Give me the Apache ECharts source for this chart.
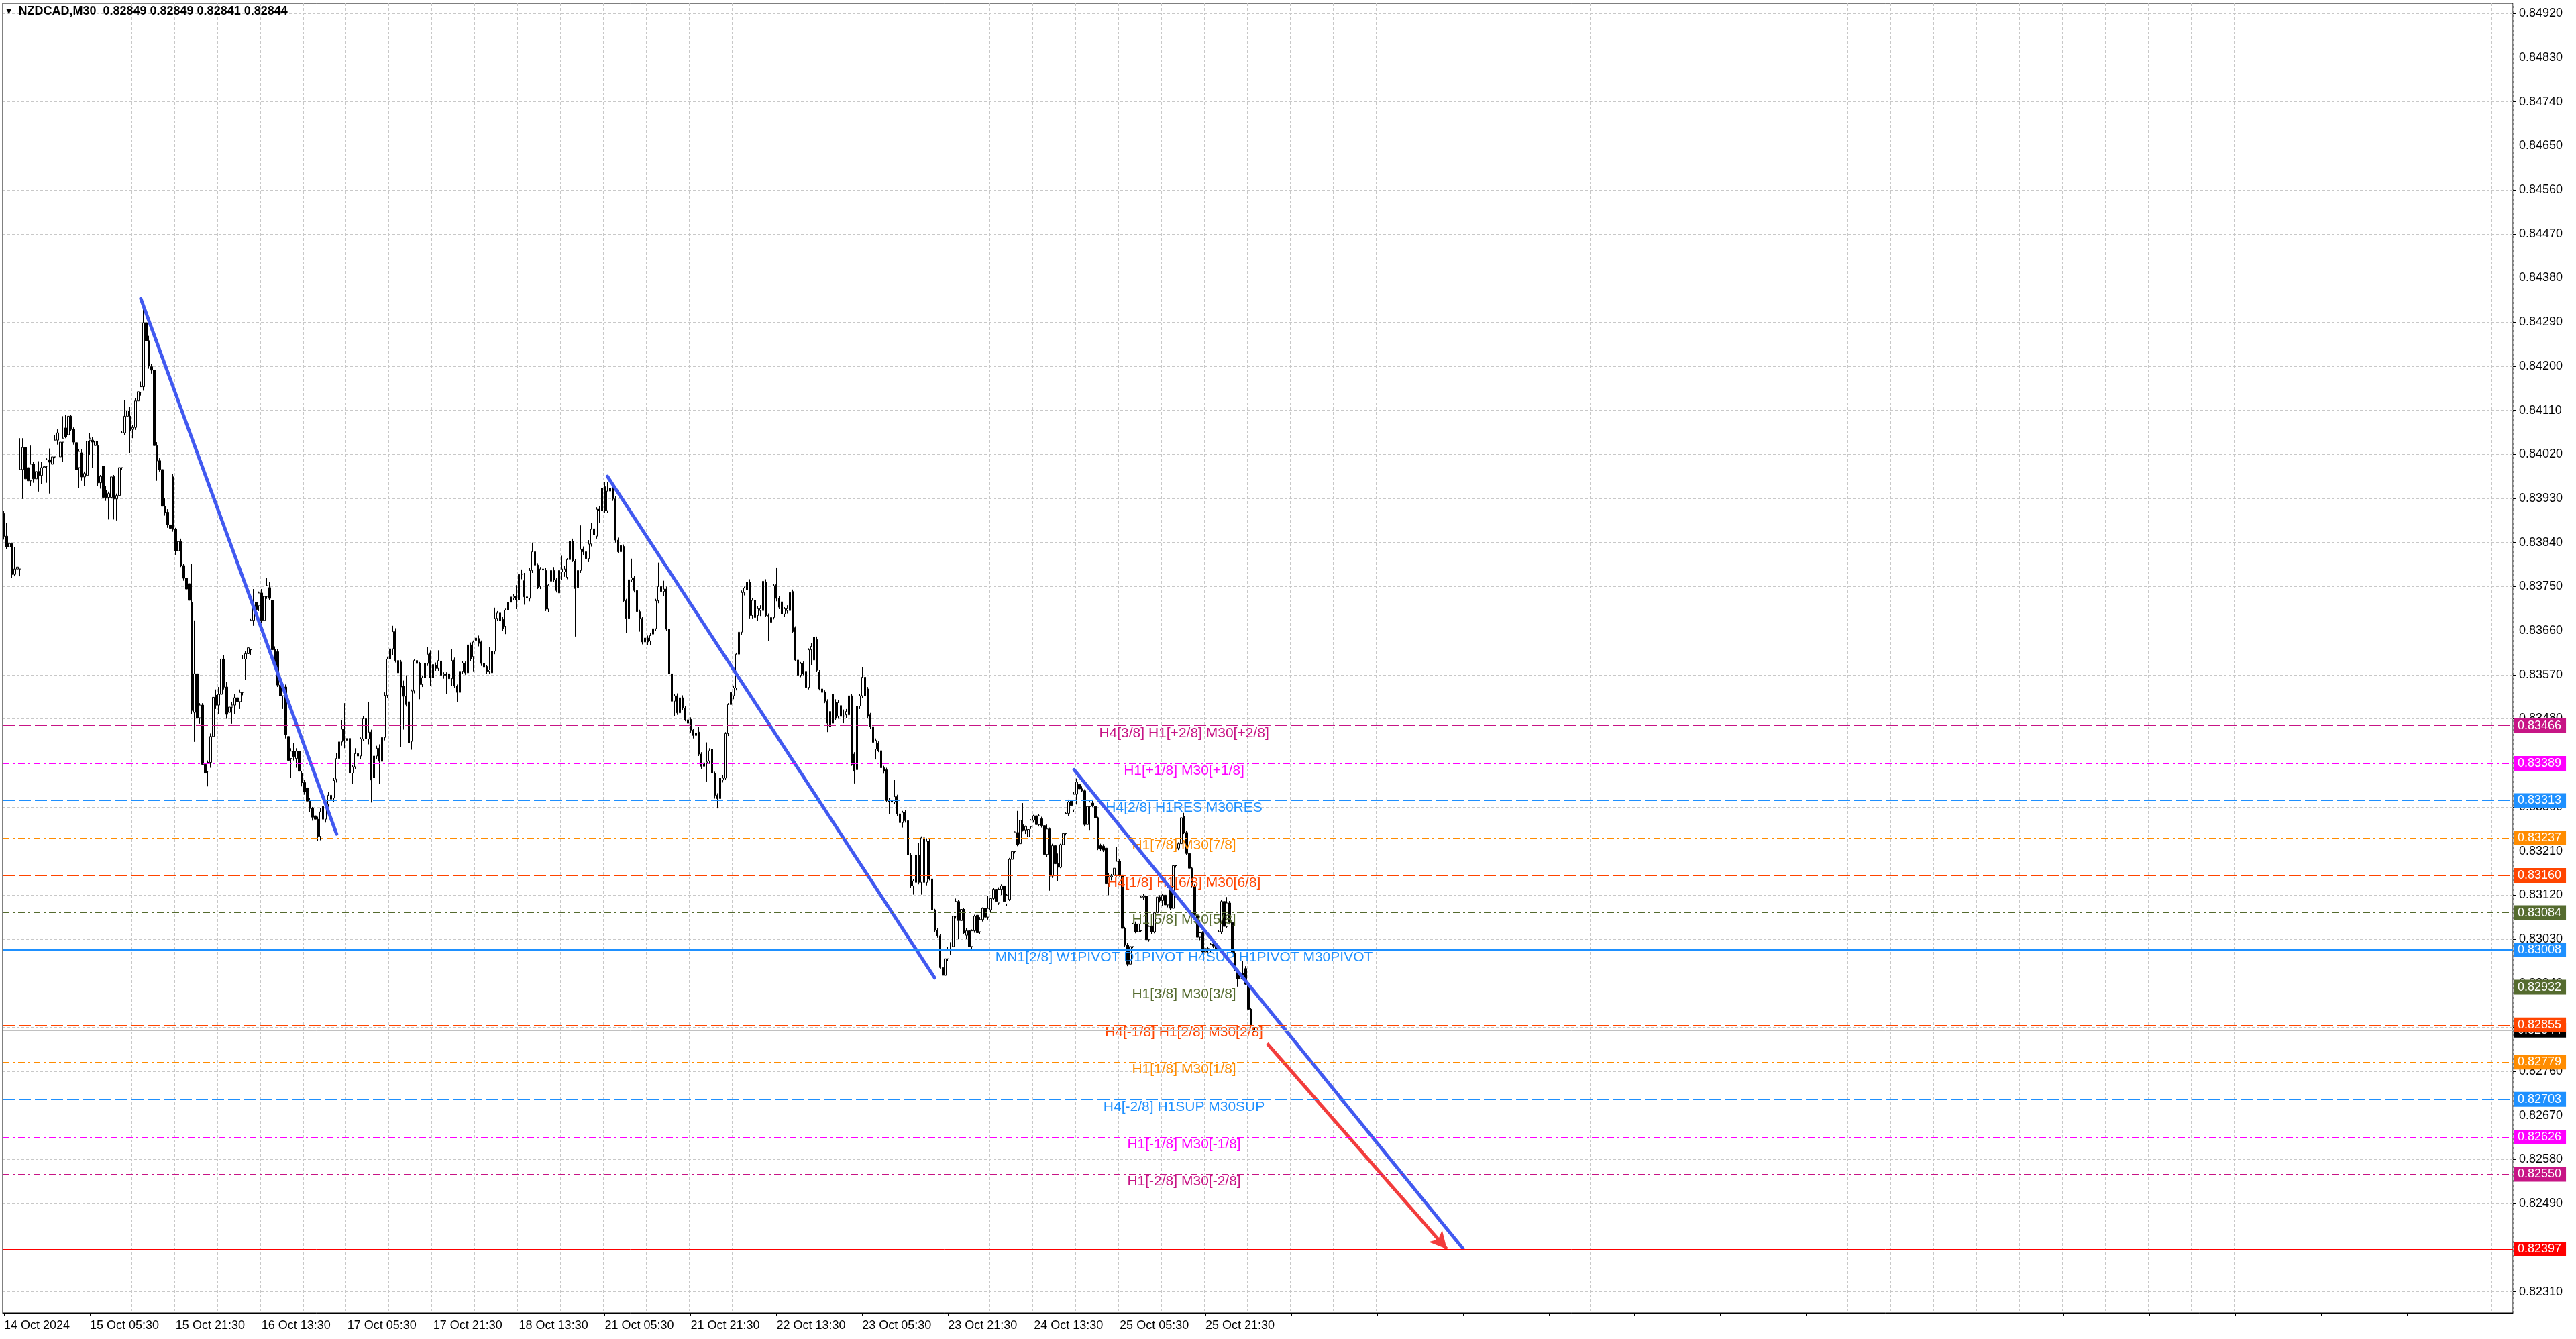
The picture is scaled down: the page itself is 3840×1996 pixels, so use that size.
<!DOCTYPE html>
<html><head><meta charset="utf-8">
<script src="https://cdn.jsdelivr.net/npm/echarts@6/dist/echarts.min.js"></script>
<style>html,body{margin:0;padding:0;background:#fff;}#chart{width:3840px;height:1996px;}</style>
</head><body><div id="chart"></div>
<script>
// ---------- DATA (prices in points, 1 point = 0.00001) ----------
const symbolTitle = 'NZDCAD,M30';
const headerQuote = [0.82849, 0.82849, 0.82841, 0.82844];
const xTickLabels = ['14 Oct 2024','15 Oct 05:30','15 Oct 21:30','16 Oct 13:30','17 Oct 05:30','17 Oct 21:30','18 Oct 13:30','21 Oct 05:30','21 Oct 21:30','22 Oct 13:30','23 Oct 05:30','23 Oct 21:30','24 Oct 13:30','25 Oct 05:30','25 Oct 21:30'];
const yTickValues = [82310,82400,82490,82580,82670,82760,82850,82940,83030,83120,83210,83300,83390,83480,83570,83660,83750,83840,83930,84020,84110,84200,84290,84380,84470,84560,84650,84740,84830,84920];
// [open, high, low, close] per M30 bar
const ohlc = [
[83899,83905,83846,83853],[83853,83880,83827,83831],[83831,83846,83825,83838],[83838,83840,83767,83775],[83775,83831,83771,83786],
[83786,83797,83738,83790],[83786,84053,83771,83989],[83989,84053,83929,84034],[84034,84056,83951,83970],[83993,84000,83962,83966],
[83966,84038,83955,84000],[84000,84004,83962,83970],[83970,83989,83959,83985],[83985,84006,83944,83977],[83977,84004,83959,83993],
[83993,83998,83985,83995],[83996,84012,83962,84009],[84009,84032,83940,84004],[84000,84019,83985,84015],[84015,84060,84012,84049],
[84049,84071,84040,84064],[84015,84053,83951,84045],[84045,84098,84004,84053],[84074,84101,84053,84056],[84060,84107,84056,84098],
[84098,84101,84068,84071],[84071,84075,84040,84045],[84044,84056,83966,83989],[83993,84030,83951,84026],[84023,84030,83966,83974],
[83974,83985,83955,83981],[83977,84068,83970,84047],[84049,84064,84019,84053],[84049,84056,83993,84045],[84038,84068,84030,84047],
[84038,84047,83955,83962],[83962,83978,83950,83975],[83996,84000,83914,83932],[83947,83955,83925,83932],[83932,83944,83887,83940],
[83932,83996,83910,83974],[83975,83978,83887,83929],[83929,83940,83885,83936],[83936,83996,83914,83993],[83993,84068,83989,84064],
[84064,84131,84060,84098],[84098,84128,84090,84109],[84098,84117,84023,84068],[84071,84080,84053,84075],[84075,84135,84070,84129],
[84129,84158,84125,84148],[84147,84169,84140,84158],[84158,84316,84150,84289],[84289,84316,84240,84252],[84252,84262,84195,84201],
[84199,84205,84185,84192],[84192,84197,84030,84038],[84038,84045,83966,84007],[84007,84012,83985,83989],[83989,83995,83905,83914],
[83914,83930,83895,83902],[83902,83908,83870,83876],[83876,83880,83860,83869],[83974,83980,83862,83867],[83867,83870,83815,83823],
[83823,83850,83815,83842],[83842,83848,83790,83793],[83793,83797,83762,83767],[83767,83772,83735,83745],[83756,83797,83718,83722],
[83718,83797,83490,83497],[83493,83681,83433,83572],[83572,83580,83475,83482],[83482,83512,83470,83508],[83508,83512,83385,83387],
[83387,83390,83275,83369],[83373,83395,83342,83391],[83391,83450,83380,83444],[83444,83530,83385,83524],[83528,83540,83500,83508],
[83508,83545,83490,83530],[83530,83643,83525,83602],[83602,83610,83540,83545],[83545,83555,83480,83489],[83493,83510,83485,83504],
[83504,83515,83470,83508],[83508,83530,83490,83523],[83523,83564,83466,83515],[83515,83540,83500,83534],[83534,83610,83528,83602],
[83602,83618,83560,83613],[83613,83636,83600,83625],[83621,83685,83610,83681],[83681,83745,83670,83711],[83718,83740,83698,83703],
[83711,83740,83700,83737],[83737,83745,83675,83681],[83681,83735,83675,83730],[83730,83767,83725,83752],[83748,83760,83722,83726],
[83722,83730,83615,83621],[83621,83628,83590,83594],[83617,83622,83545,83549],[83549,83555,83480,83527],[83527,83548,83500,83545],
[83545,83550,83440,83448],[83444,83448,83385,83395],[83399,83420,83360,83414],[83414,83430,83395,83403],[83399,83420,83380,83414],
[83414,83420,83360,83373],[83369,83373,83342,83350],[83350,83355,83325,83331],[83339,83345,83305,83312],[83312,83318,83290,83297],
[83297,83300,83272,83279],[83282,83290,83270,83275],[83275,83280,83230,83240],[83240,83298,83232,83290],[83301,83305,83270,83275],
[83275,83310,83268,83305],[83305,83330,83300,83324],[83324,83328,83308,83316],[83318,83360,83310,83354],[83357,83410,83350,83399],
[83399,83440,83385,83433],[83433,83478,83425,83459],[83459,83512,83420,83436],[83436,83445,83420,83440],[83440,83445,83352,83369],
[83369,83385,83347,83382],[83382,83420,83378,83409],[83409,83428,83400,83404],[83404,83442,83398,83439],[83439,83485,83435,83480],
[83480,83485,83436,83439],[83439,83515,83428,83453],[83453,83458,83309,83355],[83360,83408,83350,83404],[83404,83425,83398,83420],
[83420,83428,83347,83393],[83393,83445,83388,83442],[83442,83534,83436,83528],[83528,83607,83523,83602],[83602,83628,83598,83623],
[83623,83670,83610,83658],[83658,83665,83595,83599],[83599,83634,83570,83574],[83596,83600,83423,83545],[83547,83558,83458,83526],
[83526,83569,83505,83509],[83515,83520,83425,83431],[83434,83540,83417,83537],[83537,83602,83532,83599],[83599,83637,83577,83593],
[83593,83596,83520,83550],[83550,83568,83545,83564],[83564,83596,83560,83593],[83593,83626,83588,83612],[83615,83620,83547,83564],
[83564,83595,83558,83591],[83589,83595,83578,83583],[83583,83620,83578,83599],[83598,83603,83565,83569],[83569,83575,83562,83571],
[83571,83575,83531,83569],[83572,83577,83558,83562],[83562,83623,83547,83599],[83600,83605,83543,83547],[83547,83550,83515,83534],
[83534,83580,83528,83577],[83577,83598,83572,83594],[83593,83597,83570,83574],[83574,83658,83570,83631],[83631,83636,83598,83602],
[83607,83640,83577,83637],[83640,83707,83630,83645],[83644,83650,83628,83634],[83637,83640,83588,83593],[83593,83598,83580,83585],
[83587,83590,83572,83577],[83577,83626,83572,83580],[83574,83623,83570,83618],[83618,83707,83612,83685],[83685,83700,83680,83696],
[83696,83723,83675,83680],[83683,83688,83660,83664],[83669,83705,83653,83702],[83702,83734,83698,83718],[83718,83748,83696,83729],
[83727,83735,83722,83730],[83730,83753,83704,83723],[83723,83799,83718,83775],[83775,83785,83765,83776],[83762,83778,83713,83729],
[83729,83735,83702,83727],[83726,83788,83720,83783],[83783,83840,83778,83821],[83821,83826,83790,83794],[83794,83798,83745,83748],
[83750,83790,83745,83786],[83786,83802,83761,83784],[83783,83788,83700,83704],[83704,83755,83698,83753],[83761,83807,83755,83783],
[83783,83790,83760,83764],[83764,83768,83738,83742],[83737,83797,83732,83783],[83780,83813,83764,83786],[83780,83792,83770,83786],
[83769,83808,83765,83805],[83805,83846,83798,83843],[83843,83848,83800,83802],[83802,83806,83648,83746],[83748,83788,83713,83783],
[83783,83875,83778,83826],[83827,83832,83815,83821],[83821,83825,83803,83807],[83807,83845,83800,83837],[83837,83880,83832,83867],
[83868,83875,83850,83856],[83853,83912,83848,83908],[83908,83915,83880,83905],[83905,83958,83900,83951],[83954,83964,83900,83905],
[83905,83964,83900,83945],[83945,83964,83940,83951],[83951,83958,83925,83929],[83929,83935,83840,83845],[83845,83850,83818,83821],
[83821,83838,83794,83834],[83832,83836,83718,83721],[83721,83725,83656,83685],[83685,83768,83680,83764],[83764,83807,83760,83768],
[83768,83772,83738,83742],[83742,83746,83695,83699],[83699,83703,83658,83685],[83685,83688,83632,83637],[83637,83648,83610,83645],
[83645,83650,83630,83637],[83639,83655,83630,83650],[83653,83685,83648,83664],[83664,83725,83660,83721],[83721,83799,83716,83750],
[83750,83755,83735,83740],[83740,83762,83730,83745],[83745,83750,83660,83663],[83663,83668,83570,83572],[83572,83575,83512,83516],
[83516,83530,83485,83527],[83527,83532,83488,83492],[83492,83528,83474,83523],[83523,83528,83498,83502],[83502,83506,83475,83478],
[83478,83482,83468,83471],[83479,83483,83452,83457],[83457,83460,83440,83446],[83446,83455,83440,83451],[83453,83464,83404,83408],
[83408,83412,83378,83383],[83383,83418,83324,83390],[83390,83432,83352,83392],[83394,83420,83388,83415],[83418,83422,83365,83369],
[83369,83372,83317,83324],[83324,83328,83297,83317],[83317,83362,83299,83359],[83355,83365,83350,83359],[83359,83453,83355,83450],
[83450,83512,83445,83509],[83509,83536,83505,83534],[83527,83548,83520,83543],[83543,83615,83538,83612],[83612,83660,83608,83657],
[83657,83742,83652,83738],[83738,83750,83732,83747],[83743,83775,83738,83759],[83759,83765,83685,83691],[83691,83726,83685,83722],
[83722,83728,83682,83687],[83691,83710,83680,83705],[83701,83712,83690,83705],[83701,83778,83698,83761],[83759,83765,83688,83691],
[83691,83695,83639,83690],[83677,83692,83670,83687],[83687,83756,83683,83752],[83754,83789,83720,83726],[83726,83730,83704,83708],
[83719,83723,83690,83694],[83694,83708,83688,83705],[83701,83712,83695,83705],[83701,83759,83697,83738],[83740,83744,83655,83658],
[83666,83669,83598,83600],[83600,83603,83544,83569],[83569,83596,83565,83593],[83593,83597,83569,83572],[83577,83580,83527,83544],
[83544,83624,83540,83621],[83621,83635,83590,83628],[83600,83656,83596,83647],[83642,83648,83576,83579],[83576,83580,83538,83541],
[83541,83545,83530,83534],[83535,83538,83512,83516],[83516,83520,83453,83471],[83464,83500,83458,83495],[83471,83535,83466,83530],
[83514,83520,83478,83481],[83485,83518,83480,83513],[83507,83512,83480,83485],[83485,83499,83471,83486],[83488,83500,83482,83495],
[83488,83535,83484,83527],[83527,83530,83384,83387],[83408,83412,83348,83373],[83376,83510,83370,83506],[83506,83530,83500,83527],
[83527,83586,83522,83565],[83565,83618,83522,83527],[83541,83545,83482,83485],[83488,83492,83460,83464],[83464,83467,83428,83432],
[83418,83440,83397,83436],[83430,83434,83412,83415],[83415,83418,83348,83380],[83380,83384,83368,83373],[83376,83380,83310,83313],
[83313,83318,83286,83310],[83310,83316,83302,83313],[83310,83355,83306,83321],[83321,83325,83282,83286],[83286,83290,83265,83268],
[83268,83292,83258,83289],[83289,83293,83268,83272],[83272,83276,83198,83202],[83202,83206,83135,83139],[83139,83152,83121,83149],
[83146,83206,83140,83202],[83202,83226,83142,83146],[83146,83240,83121,83237],[83237,83240,83142,83146],[83146,83236,83140,83230],
[83230,83234,83150,83153],[83153,83156,83088,83090],[83090,83092,83045,83048],[83048,83052,83033,83037],[83037,83040,82970,82972],
[82972,82976,82938,82956],[82956,82995,82950,82990],[82990,83014,82985,83008],[83008,83024,82998,83006],[83015,83080,83010,83077],
[83077,83113,83072,83107],[83107,83110,83031,83068],[83068,83125,83064,83091],[83091,83094,83040,83043],[83038,83052,83030,83047],
[83047,83050,83012,83015],[83015,83050,83010,83047],[83047,83080,83043,83077],[83079,83082,83004,83043],[83045,83075,83040,83070],
[83070,83095,83066,83093],[83093,83097,83072,83075],[83075,83118,83070,83093],[83090,83115,83084,83113],[83113,83135,83110,83132],
[83132,83135,83104,83107],[83104,83136,83100,83132],[83132,83142,83120,83139],[83139,83142,83104,83107],[83102,83122,83098,83120],
[83111,83196,83108,83193],[83193,83212,83190,83209],[83209,83250,83205,83249],[83248,83292,83220,83223],[83225,83276,83220,83273],
[83264,83308,83250,83253],[83253,83262,83245,83260],[83239,83256,83235,83254],[83260,83275,83255,83273],[83273,83284,83268,83282],
[83282,83286,83260,83264],[83264,83285,83260,83282],[83276,83280,83258,83262],[83262,83266,83200,83203],[83203,83264,83198,83255],
[83255,83258,83129,83159],[83159,83225,83155,83221],[83221,83225,83180,83184],[83184,83205,83148,83177],[83177,83225,83175,83223],
[83223,83248,83220,83246],[83246,83290,83242,83287],[83287,83315,83282,83310],[83312,83320,83300,83303],[83294,83330,83290,83326],
[83326,83358,83305,83351],[83346,83360,83335,83337],[83337,83342,83330,83333],[83333,83336,83260,83264],[83264,83303,83260,83301],
[83301,83312,83253,83310],[83308,83315,83300,83303],[83301,83305,83275,83278],[83278,83280,83212,83216],[83221,83225,83210,83214],
[83220,83224,83208,83212],[83216,83219,83140,83143],[83143,83165,83120,83157],[83157,83163,83150,83159],[83161,83178,83125,83175],
[83161,83218,83158,83189],[83189,83193,83158,83161],[83161,83164,83050,83052],[83052,83055,83015,83018],[83018,83022,82975,82979],
[82979,83020,82933,83015],[83015,83063,83012,83061],[83061,83066,83042,83045],[83045,83064,83043,83061],[83047,83118,83044,83116],
[83116,83122,83110,83118],[83118,83120,83025,83029],[83029,83058,83025,83056],[83056,83060,83040,83045],[83045,83086,83042,83084],
[83084,83118,83080,83116],[83116,83120,83105,83109],[83109,83122,83098,83120],[83120,83124,83097,83100],[83100,83138,83095,83136],
[83136,83140,83090,83093],[83093,83182,83052,83180],[83180,83218,83176,83216],[83216,83228,83212,83225],[83225,83289,83220,83278],
[83280,83288,83245,83248],[83248,83252,83202,83205],[83205,83208,83172,83175],[83175,83178,83136,83139],[83139,83142,83076,83079],
[83079,83082,83031,83034],[83034,83045,83028,83043],[83043,83046,83000,83004],[83004,83013,82996,83011],[83011,83015,83000,83006],
[83006,83022,83002,83020],[83020,83025,83012,83016],[83016,83032,83008,83011],[83011,83048,83008,83045],[83045,83110,83040,83107],
[83107,83129,83054,83056],[83056,83116,83052,83104],[83104,83108,83060,83064],[83064,83082,83000,83002],[83002,83005,82965,82967],
[82967,82970,82933,82949],[82949,82963,82945,82960],[82960,82986,82952,82956],[82970,82975,82936,82938],[82938,82940,82885,82887],
[82887,82890,82850,82855],[82849,82849,82841,82844]
];
const levelValues = [83466,83389,83313,83237,83160,83084,83008,82932,82855,82779,82703,82626,82550,82397];
const levelNames = ['H4[3/8] H1[+2/8] M30[+2/8]','H1[+1/8] M30[+1/8]','H4[2/8] H1RES M30RES','H1[7/8] M30[7/8]','H4[1/8] H1[6/8] M30[6/8]','H1[5/8] M30[5/8]','MN1[2/8] W1PIVOT D1PIVOT H4SUP H1PIVOT M30PIVOT','H1[3/8] M30[3/8]','H4[-1/8] H1[2/8] M30[2/8]','H1[1/8] M30[1/8]','H4[-2/8] H1SUP M30SUP','H1[-1/8] M30[-1/8]','H1[-2/8] M30[-2/8]',''];
const levelColors = ['#C71585','#FF00FF','#1E90FF','#FF8C00','#FF4500','#556B2F','#1E90FF','#556B2F','#FF4500','#FF8C00','#1E90FF','#FF00FF','#C71585','#FF0000'];
const levelStyles = ['dash','dashdot','dash','dashdot','dash','dashdot','solid','dashdot','dash','dashdot','dash','dashdot','dashdot','solid'];
const levelWidths = [1,1,1,1,1,1,2,1,1,1,1,1,1,1];
const bidValue = 82844;
// trend lines: [barIndex1, price1, barIndex2, price2]
const trendLines = [[51,84338,124,83245],[225,83975,347,82951],[399,83376,544,82398]];
const arrowLine = [471,82817,538,82397];

// ---------- CHART ----------
const SLOTS = 936, LABEL_STEP = 32, GRID_STEP = 16, LABEL_SLOT = 440;
const FONT = '"Liberation Sans", Arial, sans-serif';
const categories = Array.from({length: SLOTS}, (_, i) => String(i));
const candleData = ohlc.map(([o, h, l, c]) => [o, c, l, h]);
const fmt = v => (v / 1e5).toFixed(5);
const dashOf = s => s === 'dash' ? [18, 6] : (s === 'dashdot' ? [10, 5, 3, 5] : 'solid');

const levelMarks = [{
  yAxis: bidValue,
  lineStyle: {color: '#C0C0C0', type: 'solid', width: 1, opacity: 1},
  label: {formatter: fmt(bidValue), backgroundColor: '#000'}
}].concat(levelValues.map((v, k) => ({
  yAxis: v,
  lineStyle: {color: levelColors[k], type: dashOf(levelStyles[k]), width: levelWidths[k], opacity: 1},
  label: {formatter: fmt(v), backgroundColor: levelColors[k]}
})));

const trendMarks = trendLines.map(([i1, v1, i2, v2]) => [
  {coord: [i1, v1], symbol: 'none', lineStyle: {color: '#4159F0', width: 5, type: 'solid', cap: 'round', opacity: 1}},
  {coord: [i2, v2], symbol: 'none'}
]).concat([[
  {coord: [arrowLine[0], arrowLine[1]], symbol: 'none', lineStyle: {color: '#F23C3C', width: 5, type: 'solid', opacity: 1}},
  {coord: [arrowLine[2], arrowLine[3]], symbol: 'arrow', symbolSize: [20, 26]}
]]);

const chart = echarts.init(document.getElementById('chart'), null, {renderer: 'canvas'});
chart.setOption({
  animation: false,
  backgroundColor: '#fff',
  title: {
    left: 9, top: 8, padding: 0,
    text: '{t|▼}  {s|' + symbolTitle + '  ' + headerQuote.map(v => v.toFixed(5)).join(' ') + '}',
    textStyle: {rich: {
      t: {fontSize: 11, color: '#000', fontFamily: 'DejaVu Sans'},
      s: {fontSize: 18, color: '#000', fontFamily: FONT}
    }}
  },
  grid: {left: 4, right: 94, top: 5, bottom: 39, show: true, borderColor: '#000', borderWidth: 1, backgroundColor: 'transparent'},
  xAxis: {
    type: 'category', data: categories, boundaryGap: true,
    axisLine: {show: true, lineStyle: {color: '#000', width: 1}},
    axisTick: {show: true, alignWithLabel: true, interval: i => i % LABEL_STEP === 0, length: 5, lineStyle: {color: '#000'}},
    axisLabel: {
      show: true, align: 'left', margin: 10, fontSize: 18, color: '#000', fontFamily: FONT,
      interval: i => i % LABEL_STEP === 0 && i / LABEL_STEP < xTickLabels.length,
      formatter: (v, i) => xTickLabels[i / LABEL_STEP] || ''
    },
    splitLine: {show: true, interval: i => i % GRID_STEP === 0, lineStyle: {color: '#C8C8C8', type: [4, 3], width: 1}}
  },
  yAxis: {
    type: 'value', position: 'right', min: 82267, max: 84941, scale: true,
    axisLine: {show: false},
    axisTick: {show: true, customValues: yTickValues, length: 4, lineStyle: {color: '#000'}},
    axisLabel: {show: true, customValues: yTickValues, formatter: v => fmt(v), margin: 9, fontSize: 18, color: '#000', fontFamily: FONT},
    splitLine: {show: true, lineStyle: {color: '#C8C8C8', type: [4, 3], width: 1}}
  },
  series: [
    {
      type: 'candlestick', name: 'NZDCAD', data: candleData, barWidth: 3, z: 2, silent: true,
      itemStyle: {color: '#FFFFFF', color0: '#000000', borderColor: '#000000', borderColor0: '#000000', borderWidth: 1},
      markLine: {silent: true, animation: false, symbol: ['none', 'none'], label: {show: false}, data: trendMarks}
    },
    {
      type: 'scatter', name: 'levels', z: 3, silent: true, symbolSize: 1,
      itemStyle: {color: 'rgba(0,0,0,0)', opacity: 1},
      label: {show: true, position: 'bottom', distance: 0, fontSize: 21, fontFamily: FONT},
      data: levelValues.map((v, k) => ({value: [LABEL_SLOT, v], label: {show: levelNames[k] !== '', formatter: levelNames[k], color: levelColors[k]}})),
      markLine: {
        silent: true, animation: false, symbol: ['none', 'none'],
        label: {show: true, position: 'end', distance: 2, color: '#fff', fontSize: 18, fontFamily: FONT, padding: [3, 7, 1, 5]},
        data: levelMarks
      }
    }
  ]
});
</script>
</body></html>
